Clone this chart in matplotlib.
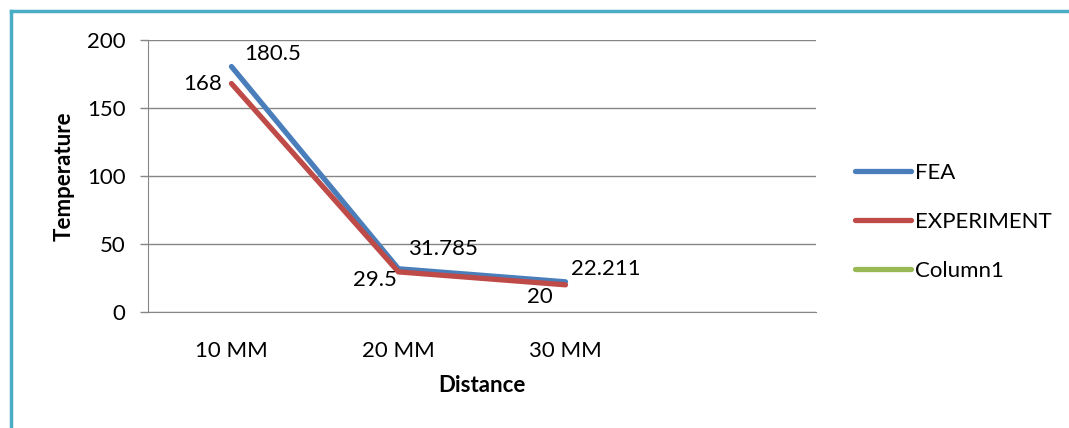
import matplotlib.pyplot as plt
from matplotlib.lines import Line2D

categories = ["10 MM", "20 MM", "30 MM", ""]
fea = [180.5, 31.785, 22.211]
experiment = [168, 29.5, 20]
fea_labels = ["180.5", "31.785", "22.211"]
exp_labels = ["168", "29.5", "20"]

plt.rcParams['font.family'] = ['Lato', 'DejaVu Sans']
FS = 16

fig = plt.figure(figsize=(10.69, 4.28), dpi=100)
ax = fig.add_axes([0.1384, 0.271, 0.6249, 0.6355])

x = list(range(len(categories)))
ax.plot(x[:3], fea, color='#4A7EBB', lw=3.8, solid_capstyle='round', label='FEA', zorder=3)
ax.plot(x[:3], experiment, color='#BE4B48', lw=3.8, solid_capstyle='round', label='EXPERIMENT', zorder=3)
ax.plot([], [], color='#98B954', lw=3.8, solid_capstyle='round', label='Column1')

# data labels (offsets in points)
fea_off = [(9, 9), (7, 14), (4, 9)]
exp_off = [(-7, 0), (-1, -6), (-9, -9)]
for i, (v, t) in enumerate(zip(fea, fea_labels)):
    ax.annotate(t, (x[i], v), xytext=fea_off[i], textcoords='offset points',
                ha='left', va='center', fontsize=FS)
for i, (v, t) in enumerate(zip(experiment, exp_labels)):
    ax.annotate(t, (x[i], v), xytext=exp_off[i], textcoords='offset points',
                ha='right', va='center', fontsize=FS)

ax.set_xlim(-0.5, 3.5)
ax.set_ylim(0, 200)
ax.set_yticks([0, 50, 100, 150, 200])
ax.set_xticks(x)
ax.set_xticklabels(categories)
ax.tick_params(axis='x', length=0, pad=21, labelsize=FS)
ax.tick_params(axis='y', length=6, width=1, color='#868686', pad=10, labelsize=FS)
ax.grid(axis='y', color='#868686', lw=1)
ax.set_axisbelow(True)
for s in ['top', 'right']:
    ax.spines[s].set_visible(False)
ax.spines['left'].set_color('#868686')
ax.spines['bottom'].set_color('#868686')

ax.set_xlabel('Distance', fontsize=FS, fontweight='bold', labelpad=10)
ax.set_ylabel('Temperature', fontsize=FS, fontweight='bold', labelpad=9)

fig.legend(loc='center left', bbox_to_anchor=(0.80, 0.481), frameon=False,
           fontsize=FS, handlelength=2.5, handletextpad=0.2, labelspacing=1.3,
           borderpad=0, borderaxespad=0)

# teal border lines of the chart area
fig.add_artist(Line2D([0.0103, 0.0103], [0, 0.975], transform=fig.transFigure,
                      color='#4BACC6', lw=2.5))
fig.add_artist(Line2D([0.0103, 1], [0.975, 0.975], transform=fig.transFigure,
                      color='#4BACC6', lw=2.5))

fig.savefig('out.png', dpi=100)
